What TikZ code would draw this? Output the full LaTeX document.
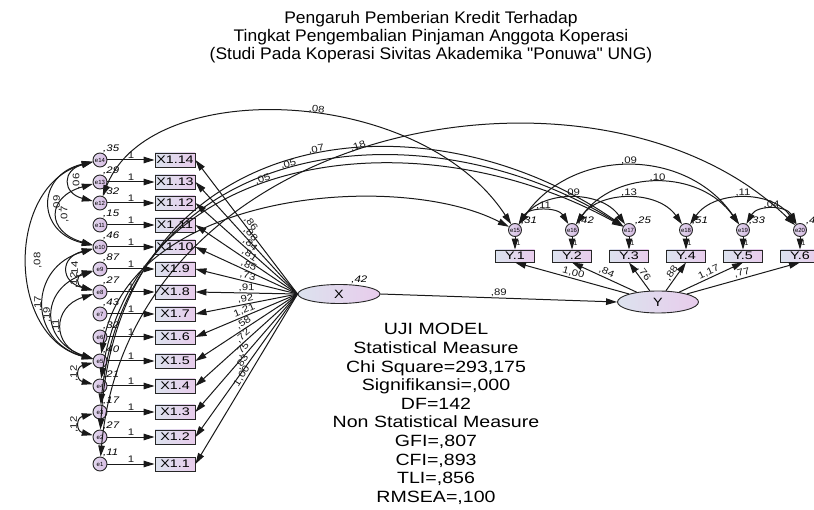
\documentclass[tikz,border=0pt]{standalone}
\usepackage{fontspec}
\setmainfont{Liberation Sans}
\newfontfamily\titlefont[FakeStretch=1.04]{Liberation Sans}
\newfontfamily\statfont[FakeStretch=1.2]{Liberation Sans}
\newfontfamily\boxfont[FakeStretch=1.3]{Liberation Sans}
\usetikzlibrary{arrows.meta,shapes.geometric}

\definecolor{boxleft}{HTML}{DCE2EE}
\definecolor{boxright}{HTML}{E8CCEC}
\definecolor{errleft}{HTML}{E2D8EE}
\definecolor{errright}{HTML}{D6BAE2}

\tikzset{
  >={Triangle[length=11pt,width=6.5pt]},
  obs/.style={draw=black!85, line width=0.9pt, left color=boxleft, right color=boxright,
    minimum width=40pt, minimum height=14pt, inner sep=0pt,
    font=\boxfont\fontsize{11}{11}\selectfont},
  yobs/.style={obs, minimum width=39pt, minimum height=12pt},
  err/.style={circle, draw=black!85, line width=0.9pt, left color=errleft, right color=errright,
    minimum size=14pt, inner sep=0pt, font=\fontsize{6}{6}\selectfont},
  yerr/.style={err, minimum size=13pt},
  lat/.style={ellipse, draw=black!85, line width=0.9pt, left color=boxleft, right color=boxright,
    minimum width=82pt, minimum height=19pt, inner sep=0pt,
    font=\statfont\fontsize{12}{12}\selectfont},
  vlab/.style={font=\statfont\itshape\fontsize{9.5}{9.5}\selectfont, inner sep=0.5pt, label distance=0pt},
  plab/.style={font=\statfont\fontsize{9.5}{9.5}\selectfont, inner sep=1pt},
  reg/.style={->, line width=1pt, black!90},
  cov/.style={<->, line width=1pt, black!90},
}

\begin{document}
\begin{tikzpicture}[x=1pt,y=-1pt]
  \useasboundingbox (0,0) rectangle (814,510);
  \fill[white] (0,0) rectangle (814,510);

  % title
  \node[align=center, font=\titlefont\fontsize{16.8}{18}\selectfont] (title) at (431,37)
    {Pengaruh Pemberian Kredit Terhadap\\
     Tingkat Pengembalian Pinjaman Anggota Koperasi\\
     (Studi Pada Koperasi Sivitas Akademika "Ponuwa" UNG)};

  % latent variables
  \node[lat, label={[vlab, xshift=10pt]80:,42}] (X) at (339,294) {X};
  \node[lat, minimum width=81pt, minimum height=22pt] (Y) at (658,302) {Y};
  \draw[reg] (X.east) -- node[plab, above] {,89} (Y.west);

  % indicators of X with their errors
  \foreach \i/\yy/\v in {14/160/{,35}, 13/182/{,29}, 12/203/{,32}, 11/225/{,15},
                         10/247/{,46}, 9/269/{,87}, 8/292/{,27}, 7/314/{,43},
                         6/337/{,32}, 5/361/{,40}, 4/386/{,21}, 3/412/{,17},
                         2/437/{,27}, 1/464/{,11}} {
    \node[obs] (x\i) at (175,\yy) {X1.\i};
    \node[err, label={[vlab]70:\v}] (e\i) at (100,\yy) {e\i};
    \draw[reg] (e\i) -- node[plab, above] {1} (x\i);
  }

  % loadings of X
  \foreach \i/\w in {14/{,86}, 13/{,88}, 12/{,84}, 11/{,81}, 10/{,85}, 9/{,73}, 8/{,91},
                     7/{,92}, 6/{1,21}, 5/{,58}, 4/{,72}, 3/{,75}, 2/{,83}, 1/{1,00}}
    \draw[reg] (X.west) -- node[plab, sloped, above, pos=0.5] {\w} (x\i.east);

  % indicators of Y with their errors
  \foreach \i/\xx/\v in {1/515/{,31}, 2/572/{,42}, 3/629/{,25},
                         4/686/{,51}, 5/743/{,33}, 6/800/{,41}} {
    \pgfmathtruncatemacro{\k}{\i+14}
    \node[yobs] (y\i) at (\xx,256) {Y.\i};
    \node[yerr, label={[vlab]40:\v}] (e\k) at (\xx,230) {e\k};
    \draw[reg] (e\k) -- node[plab, right, font=\fontsize{7}{7}\selectfont] {1} (y\i);
  }

  % loadings of Y
  \foreach \i/\w in {1/{1,00}, 2/{,84}, 3/{,76}, 4/{,88}, 5/{1,17}, 6/{,77}}
    \draw[reg] (Y) -- node[plab, sloped, above, pos=0.5] {\w} (y\i.south);

  % covariances on the left of the X errors
  \draw[cov] (e14) .. controls +(-94,25) and +(-94,-25) .. node[plab, rotate=90, yshift=-10pt] {,08} (e5);  % e14 -- e5
  \draw[cov] (e14) .. controls +(-64,15) and +(-64,-15) .. node[plab, rotate=90, yshift=-7pt] {,09} (e10);  % e14 -- e10
  \draw[cov] (e13) .. controls +(-54,15) and +(-54,-15) .. node[plab, rotate=90, yshift=-7pt] {,07} (e10);  % e13 -- e10
  \draw[cov] (e14) .. controls +(-38,10) and +(-38,-10) .. node[plab, rotate=90, yshift=-7pt] {,06} (e12);  % e14 -- e12
  \draw[cov] (e10) .. controls +(-40,10) and +(-40,-10) .. node[plab, rotate=90, yshift=-7pt] {,14} (e8);   % e10 -- e8
  \draw[cov] (e9) .. controls +(-24,6) and +(-24,-6) .. node[plab, rotate=90, yshift=6pt] {,12} (e8);       % e9 -- e8
  \draw[cov] (e10) .. controls +(-72,20) and +(-72,-20) .. node[plab, rotate=90, yshift=6pt] {,17} (e5);    % e10 -- e5
  \draw[cov] (e9) .. controls +(-60,20) and +(-60,-20) .. node[plab, rotate=90, yshift=6pt] {,19} (e5);     % e9 -- e5
  \draw[cov] (e8) .. controls +(-48,15) and +(-48,-15) .. node[plab, rotate=90, yshift=6pt] {,11} (e5);     % e8 -- e5
  \draw[cov] (e5) .. controls +(-24,6) and +(-24,-6) .. node[plab, rotate=90, yshift=6pt] {,12} (e4);       % e5 -- e4
  \draw[cov] (e3) .. controls +(-24,6) and +(-24,-6) .. node[plab, rotate=90, yshift=6pt] {,12} (e2);       % e3 -- e2

  % covariances from the X errors to the Y errors
  \draw[cov] (e12) .. controls (150,75) and (420,85) .. node[plab, above, sloped, pos=0.55] {,08} (e15);  % e12 -- e15
  \draw[cov] (e5) .. controls (130,190) and (400,170) .. (e15);                                          % e5 -- e15
  \draw[cov] (e2) .. controls (118,125) and (420,86) .. node[plab, above, sloped, pos=0.54] {,07} (e17);   % e2 -- e17
  \draw[cov] (e3) .. controls (128,137) and (420,100) .. node[plab, above, sloped, pos=0.49] {,05} (e17);  % e3 -- e17
  \draw[cov] (e4) .. controls (138,149) and (420,114) .. node[plab, above, sloped, pos=0.44] {,05} (e17);  % e4 -- e17
  \draw[cov] (e1) .. controls (130,120) and (600,35) .. node[plab, above, sloped, pos=0.47] {,18} (e20);  % e1 -- e20

  % covariances among the Y errors
  \draw[cov] (e15) .. controls +(14,-23) and +(-14,-23) .. node[plab, above] {,11} (e16);  % e15 -- e16
  \draw[cov] (e15) .. controls +(28,-40) and +(-28,-40) .. node[plab, above] {,09} (e17);  % e15 -- e17
  \draw[cov] (e16) .. controls +(28,-40) and +(-28,-40) .. node[plab, above] {,13} (e18);  % e16 -- e18
  \draw[cov] (e15) .. controls +(57,-83) and +(-57,-83) .. node[plab, above] {,09} (e19);  % e15 -- e19
  \draw[cov] (e16) .. controls +(43,-61) and +(-43,-61) .. node[plab, above] {,10} (e19);  % e16 -- e19
  \draw[cov] (e18) .. controls +(28,-40) and +(-28,-40) .. node[plab, above] {,11} (e20);  % e18 -- e20
  \draw[cov] (e19) .. controls +(14,-25) and +(-14,-25) .. node[plab, above] {,04} (e20);  % e19 -- e20

  % fit measures
  \node[align=center, font=\statfont\fontsize{16.3}{18.6}\selectfont] (stats) at (436,414)
    {UJI MODEL\\ Statistical Measure\\ Chi Square=293,175\\ Signifikansi=,000\\ DF=142\\
     Non Statistical Measure\\ GFI=,807\\ CFI=,893\\ TLI=,856\\ RMSEA=,100};
\end{tikzpicture}
\end{document}
